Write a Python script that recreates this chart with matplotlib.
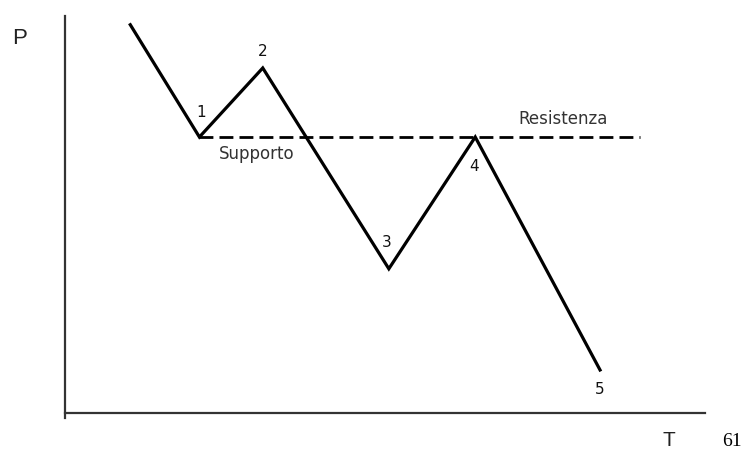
import matplotlib
matplotlib.use('Agg')
import matplotlib.pyplot as plt

# andamento del prezzo (T, P) nei punti di svolta
t_prezzo = [10.2, 21.0, 30.9, 50.6, 64.1, 83.6]
p_prezzo = [97.8, 69.5, 86.9, 36.3, 69.5, 10.8]
etichette = ['', '1', '2', '3', '4', '5']

# livello di supporto / resistenza
livello = 69.5
t_livello = [21.0, 89.8]

fig = plt.figure(figsize=(7.44, 4.5), dpi=100)
ax = fig.add_axes([65/744, 32/450, 640/744, 402/450])

ax.plot(t_prezzo, p_prezzo, color='black', lw=2.3, solid_joinstyle='miter')
ax.plot(t_livello, [livello, livello], color='black', lw=2.0, dashes=(5, 2.2))

# numeri dei punti
offs = {'1': (0.2, 6.2), '2': (0, 4.2), '3': (-0.3, 6.7), '4': (-0.2, -7.3), '5': (0, -5.0)}
for t, p, e in zip(t_prezzo, p_prezzo, etichette):
    if e:
        dx, dy = offs[e]
        ax.text(t + dx, p + dy, e, ha='center', va='center', fontsize=11,
                family='DejaVu Sans', color='#111111')

ax.text(30.0, 65.3, 'Supporto', ha='center', va='center', fontsize=12,
        family='DejaVu Sans', color='#333333')
ax.text(77.9, 74.0, 'Resistenza', ha='center', va='center', fontsize=12,
        family='DejaVu Sans', color='#333333')

ax.set_xlim(0, 100)
ax.set_ylim(-1.3, 100)
ax.spines['bottom'].set_position(('data', 0))
ax.spines['top'].set_visible(False)
ax.spines['right'].set_visible(False)
for s in ['left', 'bottom']:
    ax.spines[s].set_linewidth(1.6)
    ax.spines[s].set_color('#333333')
ax.set_xticks([])
ax.set_yticks([])

fig.text(12/744, 1 - 38/450, 'P', ha='left', va='center', fontsize=16,
         family='Liberation Sans', color='#222222')
fig.text(669/744, 1 - 440/450, 'T', ha='center', va='center', fontsize=15,
         family='Liberation Sans', color='#222222')
fig.text(732/744, 1 - 441/450, '61', ha='center', va='center', fontsize=14,
         family='Liberation Serif', color='black')

fig.savefig('out.png', dpi=100)
